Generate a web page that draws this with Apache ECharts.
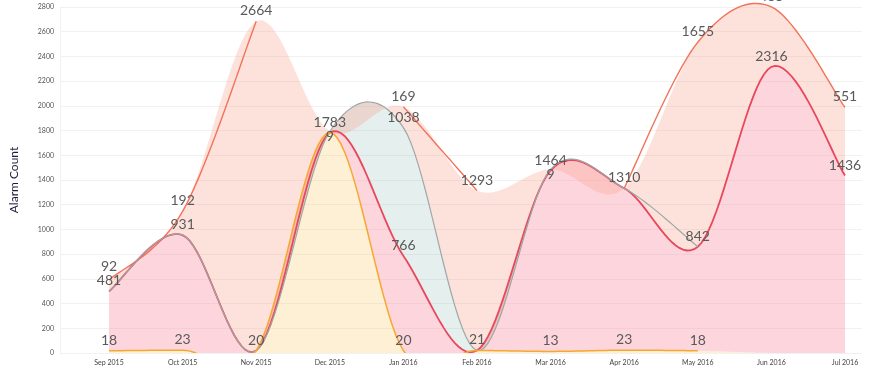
<!DOCTYPE html>
<html>
<head>
<meta charset="utf-8">
<script src="https://cdn.jsdelivr.net/npm/echarts@6/dist/echarts.min.js"></script>
<style>
html,body{margin:0;padding:0;background:#fff;}
#chart{width:873px;height:371px;}
</style>
</head>
<body>
<div id="chart"></div>
<script>
var categories = ['Sep 2015','Oct 2015','Nov 2015','Dec 2015','Jan 2016','Feb 2016','Mar 2016','Apr 2016','May 2016','Jun 2016','Jul 2016'];
var yellowValues = [18, 23, 20, 1783, 20, 21, 13, 23, 18, null, null];
var redValues    = [481, 931, 0, 0, 766, 0, 1464, 1310, 842, 2316, 1436];
var grayValues   = [0, 0, 0, 9, 1038, 0, 9, 0, 0, null, null];
var salmonValues = [92, 192, 2664, null, 169, 1293, null, 0, 1655, 485, 551];
var yTicks = {min: 0, max: 2800, interval: 200};

var layers = [
  {name: 'Yellow', vals: yellowValues, line: '#F7A730', width: 1.5, fill: 'rgba(250,200,100,0.28)', shift: -1},
  {name: 'Red',    vals: redValues,    line: '#E8475C', width: 1.8, fill: 'rgba(250,140,160,0.36)', shift: -1},
  {name: 'Gray',   vals: grayValues,   line: '#9DA8A6', width: 1.2, fill: 'rgba(150,190,185,0.25)', shift: 1},
  {name: 'Salmon', vals: salmonValues, line: '#F2725A', width: 1.4, fill: 'rgba(248,150,130,0.28)', shift: -1}
];
// running stack totals (null counted as 0 for the fills)
(function () {
  var base = categories.map(function () { return 0; });
  layers.forEach(function (L) {
    L.bottom = base.slice();
    L.top = base.map(function (b, i) { return b + (L.vals[i] || 0); });
    base = L.top;
  });
})();

function spline(pts) {
  if (pts.length < 2) return pts.slice();
  var out = [];
  for (var i = 0; i < pts.length - 1; i++) {
    var p0 = pts[i - 1] || pts[i], p1 = pts[i], p2 = pts[i + 1], p3 = pts[i + 2] || pts[i + 1];
    var c1 = [p1[0] + (p2[0] - p0[0]) / 6, p1[1] + (p2[1] - p0[1]) / 6];
    var c2 = [p2[0] - (p3[0] - p1[0]) / 6, p2[1] - (p3[1] - p1[1]) / 6];
    var N = 20;
    for (var s = 0; s < N; s++) {
      var t = s / N, u = 1 - t;
      var a = u * u * u, b = 3 * u * u * t, c = 3 * u * t * t, d = t * t * t;
      out.push([a * p1[0] + b * c1[0] + c * c2[0] + d * p2[0],
                a * p1[1] + b * c1[1] + c * c2[1] + d * p2[1]]);
    }
  }
  out.push(pts[pts.length - 1].slice());
  return out;
}

function clipFor(params) {
  var cs = params.coordSys;
  return {type: 'rect', shape: {x: cs.x - 5, y: cs.y - 30, width: cs.width + 10, height: cs.height + 30}};
}
function renderFills(params, api) {
  if (params.dataIndex !== 0) return null;
  var children = layers.map(function (L) {
    var topPts = spline(L.top.map(function (v, i) { return api.coord([i, v]); }));
    var botPts = spline(L.bottom.map(function (v, i) { return api.coord([i, v]); }));
    return {type: 'polygon', shape: {points: topPts.concat(botPts.reverse())},
            style: {fill: L.fill}, silent: true};
  });
  return {type: 'group', children: children, clipPath: clipFor(params)};
}
function renderLines(params, api) {
  if (params.dataIndex !== 0) return null;
  var children = [];
  var order = [3, 1, 2, 0];
  order.forEach(function (k) {
    var L = layers[k];
    var seg = [];
    var flush = function () {
      if (seg.length >= 2) {
        children.push({type: 'polyline', shape: {points: spline(seg)},
          style: {stroke: L.line, lineWidth: L.width, fill: null}, silent: true});
      }
      seg = [];
    };
    L.vals.forEach(function (v, i) {
      if (v === null || v === undefined) { flush(); return; }
      seg.push(api.coord([i, L.top[i]]));
    });
    flush();
  });
  return {type: 'group', children: children, clipPath: clipFor(params)};
}

// simple label collision handling between stacked labels of the same month
var placed = {};
function layoutFor(k) {
  return function (params) {
    if (!params.text) return {};
    var r = params.labelRect;
    var di = params.dataIndex;
    placed[di] = placed[di] || {};
    var dy = 0;
    for (var j = 0; j < k; j++) {
      var o = placed[di][j];
      if (!o) continue;
      var y0 = r.y + dy;
      if (y0 < o.y + o.height - 1 && y0 + r.height > o.y + 1) {
        if (layers[k].shift > 0) dy = o.y + o.height - r.y;
        else dy = o.y - (r.y + r.height);
      }
    }
    placed[di][k] = {y: r.y + dy, height: r.height};
    return {dy: dy};
  };
}
var labelSeries = layers.map(function (L, k) {
  return {
    name: L.name, type: 'line', stack: 'L', data: L.vals,
    xAxisIndex: 1, yAxisIndex: 1, smooth: false, clip: false, z: 10,
    showSymbol: true, symbol: 'circle', symbolSize: 1,
    itemStyle: {color: 'rgba(0,0,0,0)'},
    lineStyle: {opacity: 0, width: 0},
    label: {
      show: true, position: 'top', distance: 3,
      color: '#5a5a5a', fontSize: 14, fontFamily: 'Lato',
      formatter: function (p) { return p.value ? String(p.value) : ''; }
    },
    labelLayout: layoutFor(k),
    silent: true
  };
});

var chart = echarts.init(document.getElementById('chart'), null, {renderer: 'canvas'});
var anchor = categories.map(function (c, i) { return [i, layers[3].top[i]]; });
var option = {
  animation: false,
  grid: [
    {left: 56, right: 11, top: 7, bottom: 18},
    {left: 109, right: 28, top: 7, bottom: 18}
  ],
  xAxis: [
    {gridIndex: 0, type: 'category', data: categories, show: false},
    {gridIndex: 1, type: 'category', data: categories, boundaryGap: false,
     axisLine: {show: false}, axisTick: {show: false},
     axisLabel: {color: '#444', fontSize: 7, fontFamily: 'Lato', margin: 6, interval: 0}}
  ],
  yAxis: [
    {gridIndex: 0, type: 'value', min: yTicks.min, max: yTicks.max, interval: yTicks.interval,
     name: 'Alarm Count', nameLocation: 'middle', nameGap: 40,
     nameTextStyle: {color: '#1c1c3c', fontSize: 12, fontFamily: 'Lato'},
     axisLine: {show: true, lineStyle: {color: '#f2f2f2'}}, axisTick: {show: false},
     axisLabel: {color: '#555', fontSize: 7, fontFamily: 'Lato', margin: 6,
                 formatter: function (v) { return String(v); }},
     splitLine: {lineStyle: {color: '#f1f1f1'}}},
    {gridIndex: 1, type: 'value', min: yTicks.min, max: yTicks.max, interval: yTicks.interval, show: false,
     splitLine: {show: false}}
  ],
  series: [
    {type: 'custom', name: 'fills', xAxisIndex: 1, yAxisIndex: 1, data: anchor,
     renderItem: renderFills, z: 2, silent: true},
    {type: 'custom', name: 'lines', xAxisIndex: 1, yAxisIndex: 1, data: anchor,
     renderItem: renderLines, z: 3, silent: true}
  ].concat(labelSeries)
};
chart.setOption(option);
</script>
</body>
</html>
